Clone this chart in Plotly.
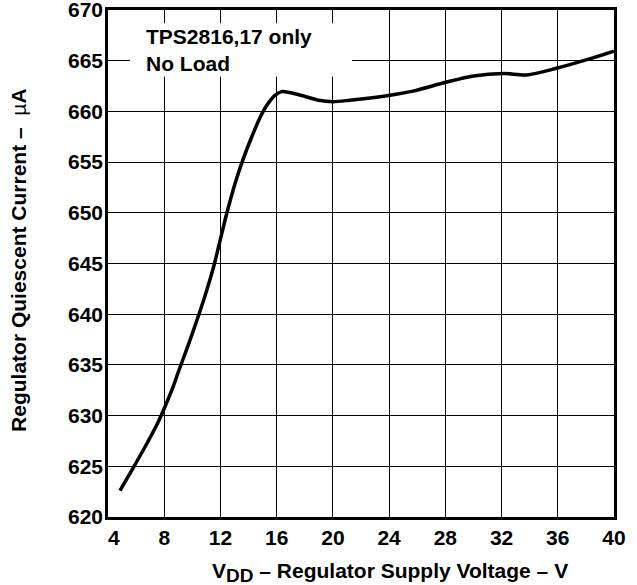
import plotly.graph_objects as go

# Data
voltage_v = [4.85, 5.69, 6.63, 7.58, 8.0, 8.65, 9.0, 9.72, 10.3, 10.9, 11.5, 12.0, 12.45,
             13.04, 13.59, 14.2, 14.82, 15.3, 15.9, 16.36, 17.7, 19.0, 20.0, 21.2, 22.5,
             24.07, 25.7, 28.1, 30.0, 32.1, 33.8, 35.9, 38.07, 40.0]
current_ua = [622.6, 624.6, 626.9, 629.4, 630.7, 632.9, 634.3, 637.0, 639.3, 641.8, 644.6, 647.4, 649.95,
              652.9, 655.2, 657.4, 659.4, 660.6, 661.6, 661.95, 661.6, 661.1, 660.96, 661.1, 661.3,
              661.6, 662.0, 662.9, 663.5, 663.75, 663.6, 664.25, 665.1, 665.95]

x_ticks = [4, 8, 12, 16, 20, 24, 28, 32, 36, 40]
x_tick_labels = ["\u00a0\u00a04", "8", "12", "16", "20", "24", "28", "32", "36", "40"]
y_ticks = [620, 625, 630, 635, 640, 645, 650, 655, 660, 665, 670]
y_tick_labels = [str(t) for t in y_ticks]

note_lines = ["TPS2816,17 only", "No Load"]
x_title = "V<sub><span style='font-size:19px'>DD</span></sub> – Regulator Supply Voltage – V"
y_title = "Regulator Quiescent Current –  <span style='font-weight:normal'>µ</span>A"

FONT = "Liberation Sans, Arial, sans-serif"

fig = go.Figure()
fig.add_trace(go.Scatter(
    x=voltage_v, y=current_ua, mode="lines",
    line=dict(color="black", width=3.5, shape="spline", smoothing=0.8),
    showlegend=False, hoverinfo="skip",
))

axis_common = dict(
    showgrid=True, gridcolor="black", gridwidth=1,
    showline=True, linecolor="black", linewidth=2.5, mirror=True,
    ticks="", zeroline=False, automargin=False, ticklabeloverflow="allow",
    tickfont=dict(family=FONT, size=21, color="black", weight="bold"),
)

fig.update_layout(
    width=637, height=585,
    margin=dict(l=108, r=23, t=10, b=68),
    paper_bgcolor="white", plot_bgcolor="white",
    font=dict(family=FONT, color="black"),
    xaxis=dict(range=[4, 40], tickvals=x_ticks, ticktext=x_tick_labels, **axis_common),
    yaxis=dict(range=[620, 670], tickvals=y_ticks, ticktext=y_tick_labels,
               ticklabelstandoff=-2, **axis_common),
)

# white box behind the note text (covers grid lines)
fig.add_shape(type="rect", xref="x", yref="y",
              x0=5.57, x1=21.37, y0=663.45, y1=668.7,
              fillcolor="white", line=dict(width=0), layer="between")

fig.add_annotation(
    xref="x", yref="y", x=6.55, y=666.1, xanchor="left", yanchor="middle",
    text="<br>".join(note_lines), align="left", showarrow=False,
    font=dict(family=FONT, size=21, color="black", weight="bold"),
)

fig.add_annotation(
    xref="paper", yref="paper", x=(390 - 108) / 506, y=-0.079, xanchor="center", yanchor="top",
    text=x_title, showarrow=False,
    font=dict(family=FONT, size=21, color="black", weight="bold"),
)

fig.add_annotation(
    xref="paper", yref="paper", x=-0.176, y=0.507, xanchor="center", yanchor="middle",
    text=y_title, textangle=-90, showarrow=False,
    font=dict(family=FONT, size=21, color="black", weight="bold"),
)

fig.write_html("out.html", config={"displayModeBar": False},
               post_script="document.body.style.margin='0px';")
